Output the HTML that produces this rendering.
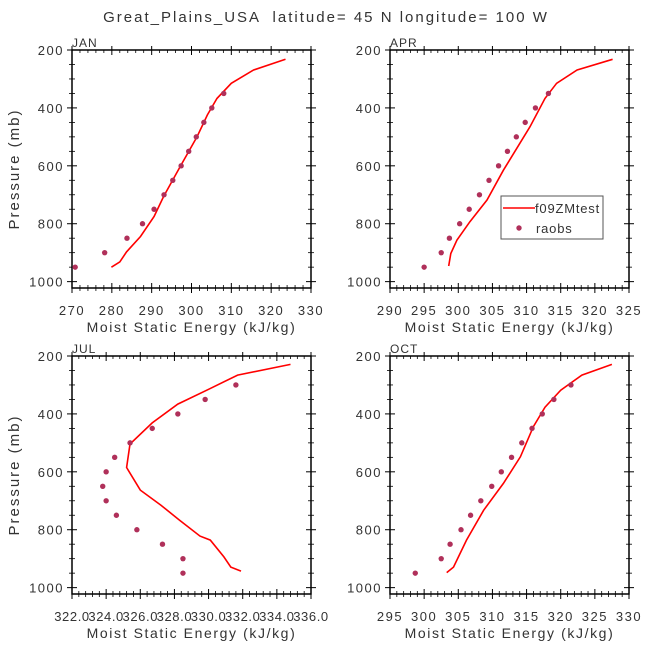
<!DOCTYPE html>
<html><head><meta charset="utf-8"><style>
html,body{margin:0;padding:0;background:#fff;}
svg{display:block;font-family:"Liberation Sans",sans-serif;}
</style></head><body>
<svg id="chart" width="648" height="648" viewBox="0 0 648 648" xmlns="http://www.w3.org/2000/svg">
<text x="326" y="22" text-anchor="middle" font-size="15" letter-spacing="2" fill="#333" xml:space="preserve">Great_Plains_USA  latitude= 45 N longitude= 100 W</text>
</svg>
<script>
// JAN
const janModelX=[279.9,282,283.7,287.2,290.6,293,297.2,301.4,304,306.4,310,315.6,323.6];
const janModelP=[950,932,897,844,775,706,602,499,424,367,315,269,232];
const janObsX=[270.8,278.2,283.8,287.7,290.6,293.1,295.3,297.4,299.3,301.2,303.1,305.1,308.1];
const janObsP=[950,900,850,800,750,700,650,600,550,500,450,400,350];
const janTicks=[270,280,290,300,310,320,330];
// APR
const aprModelX=[298.6,298.9,299.8,301.7,304.2,306.6,310.5,312.7,314.4,317.4,322.6];
const aprModelP=[946,903,857,793,718,615,465,367,315,269,232];
const aprObsX=[295.0,297.5,298.7,300.2,301.6,303.1,304.5,305.9,307.2,308.5,309.8,311.3,313.2];
const aprObsP=[950,900,850,800,750,700,650,600,550,500,450,400,350];
const aprTicks=[290,295,300,305,310,315,320,325];
// JUL
const julModelX=[331.9,331.3,330.9,330.1,329.5,328.3,327.2,326.0,325.2,325.4,326.7,328.2,330.0,331.7,334.8];
const julModelP=[943,929,894,836,822,767,715,663,585,504,431,366,315,266,229];
const julObsX=[328.5,328.5,327.3,325.8,324.6,324.0,323.8,324.0,324.5,325.4,326.7,328.2,329.8,331.6];
const julObsP=[950,900,850,800,750,700,650,600,550,500,450,400,350,300];
const julTicks=[322.0,324.0,326.0,328.0,330.0,332.0,334.0,336.0];
// OCT
const octModelX=[303.3,304.3,306.2,308.7,311.6,314.1,316,317.7,320,323.1,327.5];
const octModelP=[948,929,836,733,640,548,444,377,318,266,229];
const octObsX=[298.7,302.5,303.8,305.4,306.8,308.3,309.9,311.3,312.8,314.3,315.8,317.3,319,321.5];
const octObsP=[950,900,850,800,750,700,650,600,550,500,450,400,350,300];
const octTicks=[295,300,305,310,315,320,325,330];
const pTicks=[200,400,600,800,1000];

const NS='http://www.w3.org/2000/svg';
const svg=document.getElementById('chart');
function mk(tag,attrs,parent){const e=document.createElementNS(NS,tag);for(const k in attrs)e.setAttribute(k,attrs[k]);(parent||svg).appendChild(e);return e;}

function panel(cfg){
  const L=cfg.left,T=cfg.top,W=239,H=238;
  const pMin=200,pMax=1022;
  const xMin=cfg.ticks[0],xMax=cfg.ticks[cfg.ticks.length-1];
  const sx=v=>L+(v-xMin)/(xMax-xMin)*W;
  const sy=p=>T+(p-pMin)/(pMax-pMin)*H;
  const g=mk('g',{});
  
  
  const box=mk('rect',{x:L,y:T,width:W,height:H,fill:'none',stroke:'#000','stroke-width':1.5},g);
  
  
  const step=cfg.ticks[1]-cfg.ticks[0];
  for(let i=0;i<cfg.ticks.length;i++){
    const x=sx(cfg.ticks[i]);
    mk('line',{x1:x,y1:T+H-5,x2:x,y2:T+H+5,stroke:'#000','stroke-width':1},g);
    mk('line',{x1:x,y1:T-4,x2:x,y2:T+5,stroke:'#000','stroke-width':1},g);
    const t=mk('text',{x:x,y:T+H+27,'text-anchor':'middle','font-size':13,'letter-spacing':cfg.dec?0.6:1.5,fill:'#333'},g);
    t.textContent=cfg.dec?cfg.ticks[i].toFixed(1):String(cfg.ticks[i]);
    
    
    if(i<cfg.ticks.length-1){
      for(let k=1;k<5;k++){const xm=sx(cfg.ticks[i]+step*k/5);
        mk('line',{x1:xm,y1:T+H-3,x2:xm,y2:T+H+3,stroke:'#000','stroke-width':0.8},g);
        mk('line',{x1:xm,y1:T,x2:xm,y2:T+3,stroke:'#000','stroke-width':0.8},g);}
    }
  }
  for(let p=200;p<=1000;p+=50){
    const y=sy(p);const maj=(p%200===0);const len=maj?5:3;
    mk('line',{x1:L-len,y1:y,x2:L+len,y2:y,stroke:'#000','stroke-width':maj?1:0.8},g);
    mk('line',{x1:L+W-len,y1:y,x2:L+W+len,y2:y,stroke:'#000','stroke-width':maj?1:0.8},g);
  }
  for(const p of pTicks){
    const t=mk('text',{x:L-8,y:sy(p)+5,'text-anchor':'end','font-size':13,'letter-spacing':1.5,fill:'#333'},g);
    t.textContent=String(p);
    
    
  }
  const lab=mk('text',{x:L,y:T-3,'font-size':12,'letter-spacing':1,fill:'#333'},g);
  lab.textContent=cfg.label;
  
  
  const xt=mk('text',{x:L+W/2,y:T+H+44,'text-anchor':'middle','font-size':14,'letter-spacing':1.6,fill:'#333'},g);
  xt.textContent='Moist Static Energy (kJ/kg)';
  
  
  if(cfg.ytitle){
    const yt=mk('text',{x:0,y:0,'text-anchor':'middle','font-size':15,'letter-spacing':2,fill:'#333',transform:'translate(19,'+(T+H/2)+') rotate(-90)'},g);
    yt.textContent='Pressure (mb)';
    
    
  }
  const pts=cfg.mx.map((v,i)=>sx(v).toFixed(1)+','+sy(cfg.mp[i]).toFixed(1)).join(' ');
  const line=mk('polyline',{points:pts,fill:'none',stroke:'#ff0000','stroke-width':1.6},g);
  
  
  for(let i=0;i<cfg.ox.length;i++){
    const c=mk('circle',{cx:sx(cfg.ox[i]),cy:sy(cfg.op[i]),r:2.7,fill:'#b0305a'},g);
    
    
  }
}
panel({name:'jan',label:'JAN',left:72,top:50,ticks:janTicks,mx:janModelX,mp:janModelP,ox:janObsX,op:janObsP,ytitle:true});
panel({name:'apr',label:'APR',left:390,top:50,ticks:aprTicks,mx:aprModelX,mp:aprModelP,ox:aprObsX,op:aprObsP,ytitle:false});
panel({name:'jul',label:'JUL',left:72,top:356,ticks:julTicks,mx:julModelX,mp:julModelP,ox:julObsX,op:julObsP,ytitle:true,dec:true});
panel({name:'oct',label:'OCT',left:390,top:356,ticks:octTicks,mx:octModelX,mp:octModelP,ox:octObsX,op:octObsP,ytitle:false});

const lg=mk('g',{});


mk('rect',{x:501,y:196,width:102,height:43,fill:'#fff',stroke:'#555','stroke-width':1},lg);
const ll=mk('line',{x1:503,y1:208,x2:535,y2:208,stroke:'#ff0000','stroke-width':1.6},lg);


const lt1=mk('text',{x:535,y:213,'font-size':13,'letter-spacing':0.8,fill:'#333'},lg);
lt1.textContent='f09ZMtest';


const lc=mk('circle',{cx:519,cy:228,r:2.7,fill:'#b0305a'},lg);


const lt2=mk('text',{x:536,y:233,'font-size':13,'letter-spacing':0.8,fill:'#333'},lg);
lt2.textContent='raobs';


</script>
</body></html>
